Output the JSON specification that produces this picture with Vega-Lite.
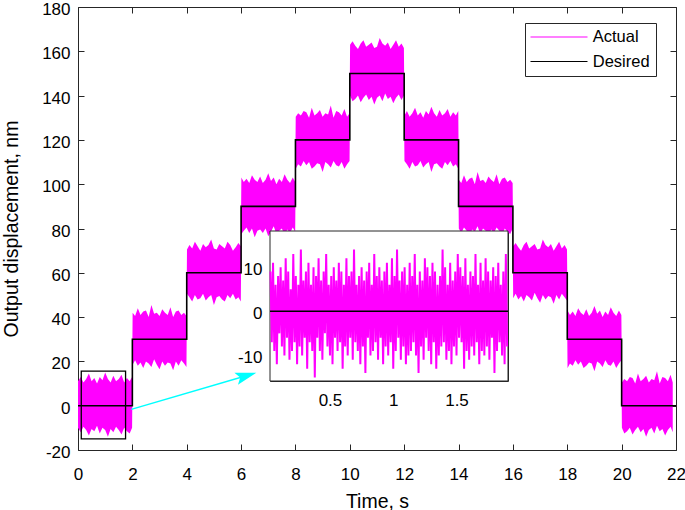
{
  "$schema": "https://vega.github.io/schema/vega-lite/v6.json",
  "width": 598,
  "height": 443,
  "autosize": "none",
  "padding": {"left": 78, "top": 7, "right": 9, "bottom": 60},
  "datasets": {
    "main": [
      {"t":0,"lo":-10,"hi":11},{"t":0.1,"lo":-12,"hi":13},{"t":0.2,"lo":-9.5,"hi":10.5},{"t":0.3,"lo":-11,"hi":12},{"t":0.4,"lo":-13.5,"hi":14.5},{"t":0.5,"lo":-10.5,"hi":11},{"t":0.6,"lo":-11.5,"hi":12.5},{"t":0.7,"lo":-9,"hi":10},{"t":0.8,"lo":-12.5,"hi":13},{"t":0.9,"lo":-10,"hi":11.5},{"t":1,"lo":-11,"hi":15},{"t":1.1,"lo":-14,"hi":12},{"t":1.2,"lo":-10.5,"hi":10.5},{"t":1.3,"lo":-12,"hi":13.5},{"t":1.4,"lo":-9.5,"hi":11},{"t":1.5,"lo":-11,"hi":12},{"t":1.6,"lo":-13,"hi":14},{"t":1.7,"lo":-10,"hi":10.5},{"t":1.8,"lo":-11.5,"hi":12.5},{"t":1.9,"lo":-12.5,"hi":11},{"t":1.99,"lo":-10,"hi":13},
      {"t":2.01,"lo":18.5,"hi":42},{"t":2.1,"lo":20.5,"hi":40.5},{"t":2.2,"lo":18,"hi":44},{"t":2.3,"lo":19.5,"hi":41},{"t":2.4,"lo":17,"hi":42.5},{"t":2.5,"lo":20,"hi":43},{"t":2.6,"lo":19,"hi":40},{"t":2.7,"lo":17.5,"hi":45.5},{"t":2.8,"lo":21,"hi":41.5},{"t":2.9,"lo":18.5,"hi":42},{"t":3,"lo":16.5,"hi":40.5},{"t":3.1,"lo":20,"hi":43.5},{"t":3.2,"lo":18,"hi":42},{"t":3.3,"lo":19.5,"hi":41},{"t":3.4,"lo":19,"hi":44.5},{"t":3.5,"lo":16,"hi":40},{"t":3.6,"lo":20,"hi":42.5},{"t":3.7,"lo":18,"hi":43},{"t":3.8,"lo":20.5,"hi":41},{"t":3.9,"lo":19,"hi":42},{"t":3.99,"lo":17.5,"hi":40.5},
      {"t":4.01,"lo":50.5,"hi":70.5},{"t":4.1,"lo":49,"hi":72.5},{"t":4.2,"lo":47,"hi":71},{"t":4.3,"lo":50,"hi":74},{"t":4.4,"lo":48,"hi":72},{"t":4.5,"lo":48.5,"hi":70},{"t":4.6,"lo":50.5,"hi":73},{"t":4.7,"lo":47.5,"hi":71.5},{"t":4.8,"lo":49,"hi":72.5},{"t":4.9,"lo":50,"hi":75},{"t":5,"lo":45.5,"hi":71},{"t":5.1,"lo":49,"hi":70.5},{"t":5.2,"lo":49.5,"hi":73},{"t":5.3,"lo":48,"hi":72},{"t":5.4,"lo":47,"hi":71},{"t":5.5,"lo":50,"hi":74},{"t":5.6,"lo":48.5,"hi":72.5},{"t":5.7,"lo":50.5,"hi":70},{"t":5.8,"lo":48,"hi":71.5},{"t":5.9,"lo":49,"hi":73.5},{"t":5.99,"lo":47,"hi":72},
      {"t":6.01,"lo":77.5,"hi":103},{"t":6.1,"lo":79,"hi":101},{"t":6.2,"lo":80.5,"hi":102.5},{"t":6.3,"lo":78,"hi":100.5},{"t":6.4,"lo":80,"hi":104},{"t":6.5,"lo":76,"hi":102},{"t":6.6,"lo":79,"hi":101},{"t":6.7,"lo":79.5,"hi":103.5},{"t":6.8,"lo":78,"hi":100.5},{"t":6.9,"lo":80,"hi":102},{"t":7,"lo":76.5,"hi":105},{"t":7.1,"lo":78.5,"hi":101.5},{"t":7.2,"lo":81,"hi":103},{"t":7.3,"lo":77.5,"hi":100},{"t":7.4,"lo":79,"hi":102.5},{"t":7.5,"lo":80,"hi":101},{"t":7.6,"lo":77,"hi":104.5},{"t":7.7,"lo":79.5,"hi":102},{"t":7.8,"lo":78,"hi":100.5},{"t":7.9,"lo":80.5,"hi":103},{"t":7.99,"lo":78.5,"hi":101},
      {"t":8.01,"lo":107,"hi":130.5},{"t":8.1,"lo":109,"hi":132},{"t":8.2,"lo":108,"hi":131},{"t":8.3,"lo":110.5,"hi":133},{"t":8.4,"lo":108.5,"hi":132.5},{"t":8.5,"lo":110,"hi":130},{"t":8.6,"lo":107,"hi":134.5},{"t":8.7,"lo":108,"hi":131},{"t":8.8,"lo":109.5,"hi":132},{"t":8.9,"lo":109,"hi":133.5},{"t":9,"lo":105.5,"hi":130.5},{"t":9.1,"lo":110,"hi":132},{"t":9.2,"lo":109,"hi":131.5},{"t":9.3,"lo":107.5,"hi":135.5},{"t":9.4,"lo":110.5,"hi":130},{"t":9.5,"lo":108.5,"hi":133},{"t":9.6,"lo":108,"hi":132.5},{"t":9.7,"lo":110,"hi":131},{"t":9.8,"lo":107,"hi":134},{"t":9.9,"lo":109,"hi":130.5},{"t":9.99,"lo":110.5,"hi":132},
      {"t":10.01,"lo":140,"hi":163},{"t":10.1,"lo":137.5,"hi":164.5},{"t":10.2,"lo":138.5,"hi":162.5},{"t":10.3,"lo":140,"hi":161},{"t":10.4,"lo":137,"hi":163.5},{"t":10.5,"lo":139,"hi":165},{"t":10.6,"lo":140.5,"hi":162},{"t":10.7,"lo":138,"hi":163},{"t":10.8,"lo":139.5,"hi":164},{"t":10.9,"lo":136,"hi":161.5},{"t":11,"lo":139,"hi":162},{"t":11.1,"lo":140,"hi":166},{"t":11.2,"lo":137.5,"hi":163.5},{"t":11.3,"lo":141,"hi":162.5},{"t":11.4,"lo":138.5,"hi":164},{"t":11.5,"lo":139.5,"hi":161},{"t":11.6,"lo":136.5,"hi":163},{"t":11.7,"lo":139,"hi":165},{"t":11.8,"lo":140.5,"hi":162},{"t":11.9,"lo":138,"hi":163.5},{"t":11.99,"lo":140,"hi":161.5},
      {"t":12.01,"lo":110.5,"hi":131},{"t":12.1,"lo":109,"hi":133},{"t":12.2,"lo":107,"hi":130.5},{"t":12.3,"lo":110,"hi":132},{"t":12.4,"lo":108,"hi":134.5},{"t":12.5,"lo":108.5,"hi":131},{"t":12.6,"lo":110.5,"hi":132.5},{"t":12.7,"lo":107.5,"hi":130},{"t":12.8,"lo":109,"hi":133},{"t":12.9,"lo":110,"hi":131.5},{"t":13,"lo":105.5,"hi":135},{"t":13.1,"lo":109,"hi":132},{"t":13.2,"lo":109.5,"hi":130.5},{"t":13.3,"lo":108,"hi":133.5},{"t":13.4,"lo":107,"hi":131},{"t":13.5,"lo":110,"hi":132},{"t":13.6,"lo":108.5,"hi":134},{"t":13.7,"lo":110.5,"hi":130.5},{"t":13.8,"lo":108,"hi":132.5},{"t":13.9,"lo":109,"hi":131},{"t":13.99,"lo":107,"hi":133},
      {"t":14.01,"lo":80,"hi":102},{"t":14.1,"lo":78,"hi":100.5},{"t":14.2,"lo":80.5,"hi":104},{"t":14.3,"lo":79,"hi":101},{"t":14.4,"lo":76.5,"hi":102.5},{"t":14.5,"lo":79.5,"hi":103},{"t":14.6,"lo":78.5,"hi":100},{"t":14.7,"lo":81,"hi":105.5},{"t":14.8,"lo":77.5,"hi":101.5},{"t":14.9,"lo":80,"hi":102},{"t":15,"lo":79,"hi":100.5},{"t":15.1,"lo":76,"hi":103.5},{"t":15.2,"lo":79.5,"hi":102},{"t":15.3,"lo":78,"hi":101},{"t":15.4,"lo":80.5,"hi":104.5},{"t":15.5,"lo":79,"hi":100},{"t":15.6,"lo":77,"hi":102.5},{"t":15.7,"lo":80,"hi":103},{"t":15.8,"lo":78.5,"hi":101},{"t":15.9,"lo":77.5,"hi":102},{"t":15.99,"lo":80,"hi":100.5},
      {"t":16.01,"lo":48.5,"hi":72},{"t":16.1,"lo":50.5,"hi":73.5},{"t":16.2,"lo":48,"hi":71.5},{"t":16.3,"lo":49.5,"hi":70},{"t":16.4,"lo":47,"hi":72.5},{"t":16.5,"lo":50,"hi":74},{"t":16.6,"lo":49,"hi":71},{"t":16.7,"lo":47.5,"hi":72},{"t":16.8,"lo":51,"hi":73},{"t":16.9,"lo":48.5,"hi":70.5},{"t":17,"lo":46.5,"hi":71},{"t":17.1,"lo":50,"hi":75},{"t":17.2,"lo":48,"hi":72.5},{"t":17.3,"lo":49.5,"hi":71.5},{"t":17.4,"lo":49,"hi":73},{"t":17.5,"lo":46,"hi":70},{"t":17.6,"lo":50,"hi":72},{"t":17.7,"lo":48,"hi":74},{"t":17.8,"lo":50.5,"hi":71},{"t":17.9,"lo":49,"hi":72.5},{"t":17.99,"lo":47.5,"hi":70.5},
      {"t":18.01,"lo":17,"hi":43},{"t":18.1,"lo":19,"hi":41},{"t":18.2,"lo":18,"hi":42.5},{"t":18.3,"lo":20.5,"hi":40.5},{"t":18.4,"lo":18.5,"hi":44},{"t":18.5,"lo":20,"hi":42},{"t":18.6,"lo":17,"hi":41},{"t":18.7,"lo":18,"hi":43.5},{"t":18.8,"lo":19.5,"hi":40.5},{"t":18.9,"lo":19,"hi":42},{"t":19,"lo":15.5,"hi":45},{"t":19.1,"lo":20,"hi":41.5},{"t":19.2,"lo":19,"hi":43},{"t":19.3,"lo":17.5,"hi":40},{"t":19.4,"lo":20.5,"hi":42.5},{"t":19.5,"lo":18.5,"hi":41},{"t":19.6,"lo":18,"hi":44.5},{"t":19.7,"lo":20,"hi":42},{"t":19.8,"lo":17,"hi":40.5},{"t":19.9,"lo":19,"hi":43},{"t":19.99,"lo":20.5,"hi":41},
      {"t":20.01,"lo":-10,"hi":10.5},{"t":20.1,"lo":-12.5,"hi":12},{"t":20.2,"lo":-11.5,"hi":11},{"t":20.3,"lo":-10,"hi":13},{"t":20.4,"lo":-13,"hi":12.5},{"t":20.5,"lo":-11,"hi":10},{"t":20.6,"lo":-9.5,"hi":14.5},{"t":20.7,"lo":-12,"hi":11},{"t":20.8,"lo":-10.5,"hi":12},{"t":20.9,"lo":-14,"hi":13.5},{"t":21,"lo":-11,"hi":10.5},{"t":21.1,"lo":-10,"hi":12},{"t":21.2,"lo":-12.5,"hi":11.5},{"t":21.3,"lo":-9,"hi":15.5},{"t":21.4,"lo":-11.5,"hi":10},{"t":21.5,"lo":-10.5,"hi":13},{"t":21.6,"lo":-13.5,"hi":12.5},{"t":21.7,"lo":-11,"hi":11},{"t":21.8,"lo":-9.5,"hi":14},{"t":21.88,"lo":-12,"hi":10.5}
    ],
    "steps": [
      {"t":0,"v":0},{"t":2,"v":30},{"t":4,"v":60},{"t":6,"v":90},{"t":8,"v":120},{"t":10,"v":150},{"t":12,"v":120},{"t":14,"v":90},{"t":16,"v":60},{"t":18,"v":30},{"t":20,"v":0},{"t":22,"v":0}
    ],
    "inset": [
      {"t":0.03,"v":9},{"t":0.04,"v":-7},{"t":0.05,"v":11},{"t":0.06,"v":-9},{"t":0.07,"v":6},{"t":0.08,"v":-12},{"t":0.09,"v":8},{"t":0.1,"v":-5},{"t":0.11,"v":10},{"t":0.12,"v":-8},
      {"t":0.13,"v":7},{"t":0.14,"v":-10},{"t":0.15,"v":12},{"t":0.16,"v":-6},{"t":0.17,"v":9},{"t":0.18,"v":-11},{"t":0.19,"v":5},{"t":0.2,"v":-9},{"t":0.21,"v":13},{"t":0.22,"v":-7},
      {"t":0.23,"v":8},{"t":0.24,"v":-12},{"t":0.25,"v":6},{"t":0.26,"v":-8},{"t":0.27,"v":14},{"t":0.28,"v":-10},{"t":0.29,"v":7},{"t":0.3,"v":-6},{"t":0.31,"v":9},{"t":0.32,"v":-13},
      {"t":0.33,"v":11},{"t":0.34,"v":-7},{"t":0.35,"v":6},{"t":0.36,"v":-9},{"t":0.37,"v":10},{"t":0.38,"v":-15},{"t":0.39,"v":8},{"t":0.4,"v":-6},{"t":0.41,"v":12},{"t":0.42,"v":-9},
      {"t":0.43,"v":7},{"t":0.44,"v":-11},{"t":0.45,"v":9},{"t":0.46,"v":-5},{"t":0.47,"v":13},{"t":0.48,"v":-8},{"t":0.49,"v":6},{"t":0.5,"v":-10},{"t":0.51,"v":8},{"t":0.52,"v":-12},
      {"t":0.53,"v":10},{"t":0.54,"v":-6},{"t":0.55,"v":7},{"t":0.56,"v":-9},{"t":0.57,"v":11},{"t":0.58,"v":-7},{"t":0.59,"v":9},{"t":0.6,"v":-13},{"t":0.61,"v":6},{"t":0.62,"v":-8},
      {"t":0.63,"v":12},{"t":0.64,"v":-10},{"t":0.65,"v":8},{"t":0.66,"v":-6},{"t":0.67,"v":9},{"t":0.68,"v":-11},{"t":0.69,"v":14},{"t":0.7,"v":-7},{"t":0.71,"v":6},{"t":0.72,"v":-9},
      {"t":0.73,"v":8},{"t":0.74,"v":-12},{"t":0.75,"v":10},{"t":0.76,"v":-8},{"t":0.77,"v":7},{"t":0.78,"v":-14},{"t":0.79,"v":9},{"t":0.8,"v":-6},{"t":0.81,"v":11},{"t":0.82,"v":-10},
      {"t":0.83,"v":6},{"t":0.84,"v":-9},{"t":0.85,"v":13},{"t":0.86,"v":-7},{"t":0.87,"v":8},{"t":0.88,"v":-11},{"t":0.89,"v":10},{"t":0.9,"v":-6},{"t":0.91,"v":7},{"t":0.92,"v":-12},
      {"t":0.93,"v":9},{"t":0.94,"v":-8},{"t":0.95,"v":11},{"t":0.96,"v":-10},{"t":0.97,"v":6},{"t":0.98,"v":-7},{"t":0.99,"v":12},{"t":1,"v":-13},{"t":1.01,"v":8},{"t":1.02,"v":-9},
      {"t":1.03,"v":14},{"t":1.04,"v":-6},{"t":1.05,"v":7},{"t":1.06,"v":-11},{"t":1.07,"v":9},{"t":1.08,"v":-8},{"t":1.09,"v":10},{"t":1.1,"v":-12},{"t":1.11,"v":6},{"t":1.12,"v":-10},
      {"t":1.13,"v":11},{"t":1.14,"v":-9},{"t":1.15,"v":8},{"t":1.16,"v":-7},{"t":1.17,"v":13},{"t":1.18,"v":-10},{"t":1.19,"v":6},{"t":1.2,"v":-14},{"t":1.21,"v":9},{"t":1.22,"v":-8},
      {"t":1.23,"v":7},{"t":1.24,"v":-11},{"t":1.25,"v":12},{"t":1.26,"v":-6},{"t":1.27,"v":10},{"t":1.28,"v":-9},{"t":1.29,"v":8},{"t":1.3,"v":-12},{"t":1.31,"v":11},{"t":1.32,"v":-7},
      {"t":1.33,"v":9},{"t":1.34,"v":-13},{"t":1.35,"v":6},{"t":1.36,"v":-10},{"t":1.37,"v":8},{"t":1.38,"v":-8},{"t":1.39,"v":14},{"t":1.4,"v":-7},{"t":1.41,"v":10},{"t":1.42,"v":-11},
      {"t":1.43,"v":6},{"t":1.44,"v":-9},{"t":1.45,"v":11},{"t":1.46,"v":-12},{"t":1.47,"v":7},{"t":1.48,"v":-8},{"t":1.49,"v":9},{"t":1.5,"v":-10},{"t":1.51,"v":13},{"t":1.52,"v":-6},
      {"t":1.53,"v":10},{"t":1.54,"v":-7},{"t":1.55,"v":8},{"t":1.56,"v":-13},{"t":1.57,"v":12},{"t":1.58,"v":-9},{"t":1.59,"v":6},{"t":1.6,"v":-11},{"t":1.61,"v":9},{"t":1.62,"v":-8},
      {"t":1.63,"v":8},{"t":1.64,"v":-10},{"t":1.65,"v":13},{"t":1.66,"v":-7},{"t":1.67,"v":6},{"t":1.68,"v":-12},{"t":1.69,"v":11},{"t":1.7,"v":-9},{"t":1.71,"v":7},{"t":1.72,"v":-10},
      {"t":1.73,"v":12},{"t":1.74,"v":-8},{"t":1.75,"v":9},{"t":1.76,"v":-11},{"t":1.77,"v":7},{"t":1.78,"v":-6},{"t":1.79,"v":10},{"t":1.8,"v":-14},{"t":1.81,"v":8},{"t":1.82,"v":-9},
      {"t":1.83,"v":11},{"t":1.84,"v":-7},{"t":1.85,"v":6},{"t":1.86,"v":-10},{"t":1.87,"v":9},{"t":1.88,"v":-12},{"t":1.89,"v":13},{"t":1.9,"v":-8}
    ]
  },
  "layer": [
    {
      "layer": [
        {
          "data": {"name": "main"},
          "mark": {"type": "area", "color": "#ff00ff", "opacity": 1},
          "encoding": {
            "x": {"field": "t", "type": "quantitative", "scale": {"domain": [0, 22], "nice": false, "zero": false},
                  "axis": {"orient": "bottom", "values": [0,2,4,6,8,10,12,14,16,18,20,22], "title": "Time, s"}},
            "y": {"field": "lo", "type": "quantitative", "scale": {"domain": [-20, 180], "nice": false, "zero": false},
                  "axis": {"orient": "left", "values": [-20,0,20,40,60,80,100,120,140,160,180], "labelExpr": "'' + datum.value", "title": "Output displacement, nm"}},
            "y2": {"field": "hi"}
          }
        },
        {
          "data": {"name": "steps"},
          "mark": {"type": "line", "interpolate": "step-after", "strokeWidth": 1.6},
          "encoding": {
            "x": {"field": "t", "type": "quantitative", "scale": {"domain": [0, 22], "nice": false, "zero": false},
                  "axis": {"orient": "top", "values": [0,2,4,6,8,10,12,14,16,18,20,22], "labels": false, "title": null}},
            "y": {"field": "v", "type": "quantitative", "scale": {"domain": [-20, 180], "nice": false, "zero": false},
                  "axis": {"orient": "right", "values": [-20,0,20,40,60,80,100,120,140,160,180], "labels": false, "title": null}},
            "color": {"datum": "Desired", "type": "nominal",
                      "scale": {"domain": ["Actual", "Desired"], "range": ["#ff00ff", "#000000"]},
                      "legend": {"title": null, "orient": "none", "legendX": 447, "legendY": 16, "fillColor": "#ffffff", "strokeColor": "#262626", "padding": 5.75, "rowPadding": 7.5, "symbolType": "M-4,0H4", "symbolSize": 203, "symbolStrokeWidth": 1.2, "symbolOffset": 20, "labelOffset": 25.5, "labelFont": "Liberation Sans", "labelFontSize": 16.5, "labelColor": "#000000"}}
          }
        },
        {
          "data": {"values": [{"x1": 0.12, "x2": 1.75, "y1": -15, "y2": 15.6}]},
          "mark": {"type": "rect", "fill": null, "fillOpacity": 0, "stroke": "#000000", "strokeWidth": 1.3},
          "encoding": {
            "x": {"field": "x1", "type": "quantitative", "axis": null},
            "x2": {"field": "x2"},
            "y": {"field": "y1", "type": "quantitative", "axis": null},
            "y2": {"field": "y2"}
          }
        },
        {
          "data": {"values": [{"x": 1.96, "y": -1.67}, {"x": 6.19, "y": 13.5}]},
          "mark": {"type": "line", "color": "#00ffff", "strokeWidth": 1.5},
          "encoding": {
            "x": {"field": "x", "type": "quantitative", "axis": null},
            "y": {"field": "y", "type": "quantitative", "axis": null}
          }
        },
        {
          "data": {"values": [{"x": 6.19, "y": 13.5}]},
          "mark": {"type": "point", "shape": "M1,0L-1,-0.6L-0.6,0L-1,0.6Z", "size": 441, "angle": 343.7, "filled": true, "color": "#00ffff", "opacity": 1},
          "encoding": {
            "x": {"field": "x", "type": "quantitative", "axis": null},
            "y": {"field": "y", "type": "quantitative", "axis": null}
          }
        }
      ],
      "resolve": {"axis": {"x": "independent", "y": "independent"}}
    },
    {
      "layer": [
        {
          "data": {"values": [{"x1": 0.026, "x2": 1.907, "y1": -15.8, "y2": 18.2}]},
          "mark": {"type": "rect", "fill": "#ffffff", "stroke": "#262626", "strokeWidth": 1},
          "encoding": {
            "x": {"field": "x1", "type": "quantitative", "scale": {"domain": [0.026, 1.907], "range": [192, 430], "nice": false, "zero": false},
                  "axis": {"orient": "bottom", "offset": -69, "labelPadding": 17, "values": [0.5, 1, 1.5], "labelExpr": "'' + datum.value", "title": null}},
            "x2": {"field": "x2"},
            "y": {"field": "y1", "type": "quantitative", "scale": {"domain": [-15.8, 18.2], "range": [374, 224], "nice": false, "zero": false},
                  "axis": {"orient": "left", "offset": -192, "values": [-10, 0, 10], "labelExpr": "'' + datum.value", "title": null}},
            "y2": {"field": "y2"}
          }
        },
        {
          "data": {"name": "inset"},
          "mark": {"type": "line", "strokeWidth": 2},
          "encoding": {
            "x": {"field": "t", "type": "quantitative", "axis": null},
            "y": {"field": "v", "type": "quantitative", "axis": null},
            "color": {"datum": "Actual", "type": "nominal",
                      "scale": {"domain": ["Actual", "Desired"], "range": ["#ff00ff", "#000000"]},
                      "legend": {"title": null, "orient": "none", "legendX": 447, "legendY": 16, "fillColor": "#ffffff", "strokeColor": "#262626", "padding": 5.75, "rowPadding": 7.5, "symbolType": "M-4,0H4", "symbolSize": 203, "symbolStrokeWidth": 1.2, "symbolOffset": 20, "labelOffset": 25.5, "labelFont": "Liberation Sans", "labelFontSize": 16.5, "labelColor": "#000000"}}
          }
        },
        {
          "data": {"values": [{"t": 0.026, "v": 0}, {"t": 1.907, "v": 0}]},
          "mark": {"type": "line", "color": "#000000", "strokeWidth": 1.6},
          "encoding": {
            "x": {"field": "t", "type": "quantitative",
                  "axis": {"orient": "top", "offset": -224, "values": [0.5, 1, 1.5], "labels": false, "title": null}},
            "y": {"field": "v", "type": "quantitative",
                  "axis": {"orient": "right", "offset": -168, "values": [-10, 0, 10], "labels": false, "title": null}}
          }
        }
      ],
      "resolve": {"axis": {"x": "independent", "y": "independent"}}
    }
  ],
  "resolve": {"scale": {"x": "independent", "y": "independent"}},
  "config": {
    "view": {"stroke": null},
    "axis": {"grid": false, "domainColor": "#262626", "tickColor": "#262626", "labelColor": "#000000", "titleColor": "#000000",
             "labelFont": "Liberation Sans", "titleFont": "Liberation Sans", "labelFontSize": 17, "titleFontSize": 19.5, "titleFontWeight": "normal",
             "tickSize": -6, "labelFlush": false, "labelOverlap": false, "domainWidth": 1, "tickWidth": 1},
    "axisX": {"labelPadding": 22, "titlePadding": 10},
    "axisY": {"labelPadding": 14, "titlePadding": 20, "labelOffset": 2.5}
  }
}
